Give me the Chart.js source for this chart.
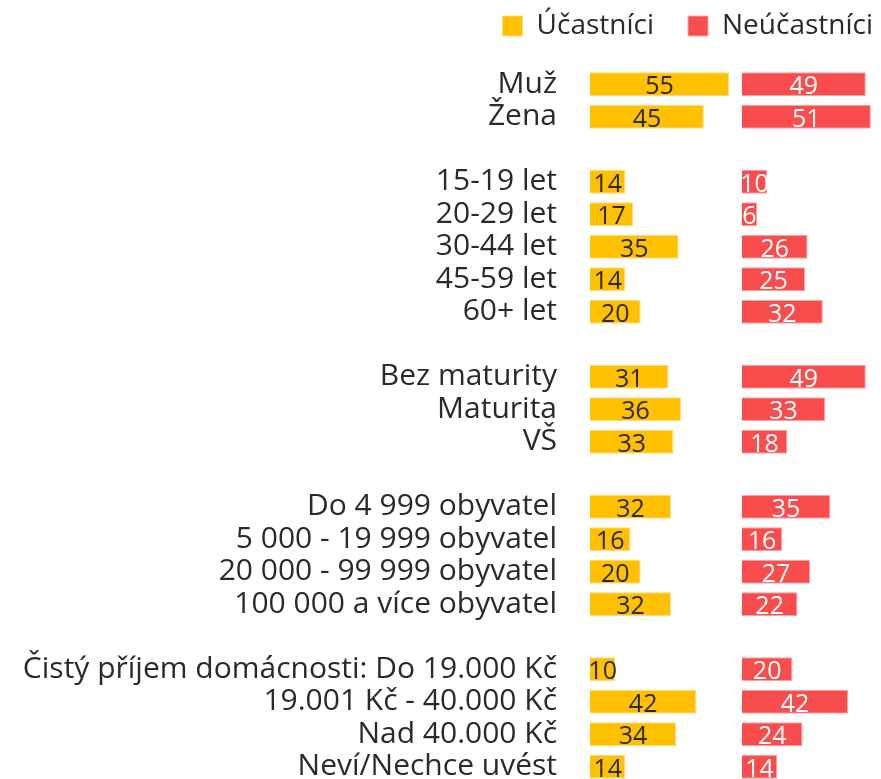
<!DOCTYPE html>
<html>
<head>
<meta charset="utf-8">
<script src="https://cdn.jsdelivr.net/npm/chart.js@4.4.1/dist/chart.umd.min.js"></script>
<style>
html, body { margin: 0; padding: 0; background: #ffffff; overflow: hidden; }
#wrap { position: relative; width: 881px; height: 786px; }
</style>
</head>
<body>
<div id="wrap"><canvas id="c"></canvas></div>
<script>
// ---- data ----
const categories = [
  'Muž', 'Žena', '',
  '15-19 let', '20-29 let', '30-44 let', '45-59 let', '60+ let', '',
  'Bez maturity', 'Maturita', 'VŠ', '',
  'Do 4 999 obyvatel', '5 000 - 19 999 obyvatel', '20 000 - 99 999 obyvatel', '100 000 a více obyvatel', '',
  'Čistý příjem domácnosti: Do 19.000 Kč', '19.001 Kč - 40.000 Kč', 'Nad 40.000 Kč', 'Neví/Nechce uvést'
];
const participants = [55, 45, null, 14, 17, 35, 14, 20, null, 31, 36, 33, null, 32, 16, 20, 32, null, 10, 42, 34, 14];
const nonParticipants = [49, 51, null, 10, 6, 26, 25, 32, null, 49, 33, 18, null, 35, 16, 27, 22, null, 20, 42, 24, 14];
const seriesNames = ['Účastníci', 'Neúčastníci'];
const participantsAxisMax = 60;
const nonParticipantsAxisMax = 55;

// ---- style ----
const FONT = '"Open Sans", "Noto Sans", sans-serif';
const TEXT = '#2b2a29';
const YELLOW = '#FFC000';
const RED = '#F94D4D';

const valueLabels = {
  id: 'valueLabels',
  afterDatasetsDraw(chart) {
    const ctx = chart.ctx;
    const colors = [TEXT, '#ffffff'];
    chart.data.datasets.forEach((ds, di) => {
      const meta = chart.getDatasetMeta(di);
      meta.data.forEach((bar, i) => {
        const v = ds.data[i];
        if (v === null || v === undefined) return;
        ctx.save();
        ctx.font = '25px ' + FONT;
        ctx.fillStyle = colors[di];
        ctx.textAlign = 'center';
        ctx.textBaseline = 'middle';
        ctx.fillText(String(v), (bar.x + bar.base) / 2, bar.y + 3);
        ctx.restore();
      });
    });
  }
};

const legendGap = {
  id: 'legendGap',
  afterInit(chart) {
    const origFit = chart.legend.fit;
    chart.legend.fit = function () {
      origFit.call(this);
      this.height += 18;
    };
  }
};

new Chart(document.getElementById('c'), {
  type: 'bar',
  data: {
    labels: categories,
    datasets: [
      {
        label: seriesNames[0],
        data: participants,
        xAxisID: 'x1',
        backgroundColor: YELLOW,
        borderColor: '#FFDA80',
        borderWidth: 1,
        grouped: false,
        categoryPercentage: 1,
        barPercentage: 0.74
      },
      {
        label: seriesNames[1],
        data: nonParticipants,
        xAxisID: 'x2',
        backgroundColor: RED,
        borderColor: '#FCA5A5',
        borderWidth: 1,
        grouped: false,
        categoryPercentage: 1,
        barPercentage: 0.74
      }
    ]
  },
  options: {
    indexAxis: 'y',
    responsive: true,
    maintainAspectRatio: false,
    animation: false,
    layout: { padding: { top: -22, bottom: 3, left: 0, right: -26 } },
    plugins: {
      tooltip: { enabled: false },
      legend: {
        display: true,
        position: 'top',
        align: 'end',
        labels: {
          boxWidth: 20,
          boxHeight: 20,
          color: TEXT,
          padding: 34,
          font: { family: FONT, size: 28 }
        }
      }
    },
    scales: {
      y: {
        position: 'left',
        grid: { display: false, drawTicks: false },
        border: { display: false },
        ticks: {
          autoSkip: false,
          color: TEXT,
          padding: 33,
          font: { family: FONT, size: 30 }
        },
        afterFit(scale) {
          scale.width = 590;
          scale.paddingTop = 0;
          scale.paddingBottom = 0;
        }
      },
      x1: {
        type: 'linear',
        position: 'bottom',
        stack: 'panels',
        stackWeight: participantsAxisMax,
        min: 0,
        max: participantsAxisMax,
        display: false
      },
      x2: {
        type: 'linear',
        position: 'bottom',
        stack: 'panels',
        stackWeight: nonParticipantsAxisMax,
        min: 0,
        max: nonParticipantsAxisMax,
        display: false
      }
    }
  },
  plugins: [valueLabels, legendGap]
});
</script>
</body>
</html>
